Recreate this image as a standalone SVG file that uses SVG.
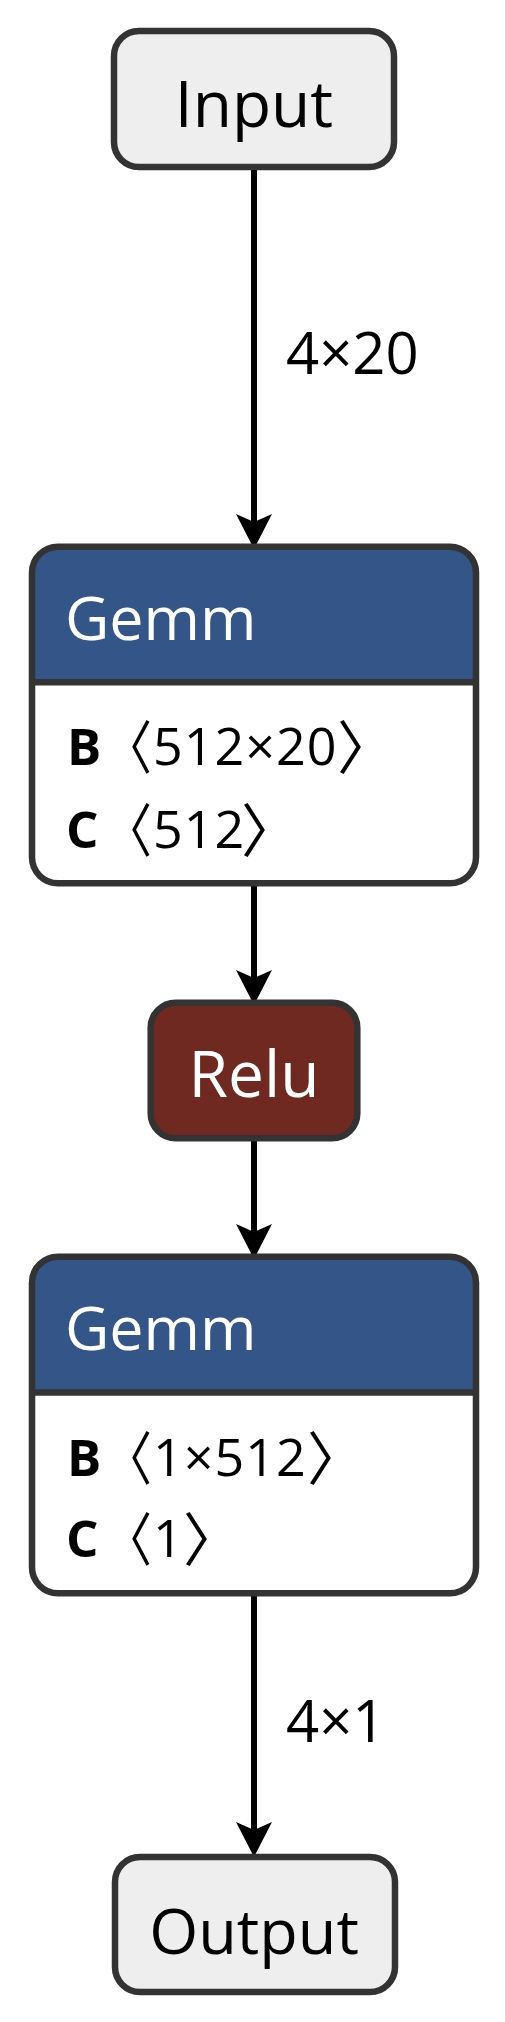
<svg xmlns="http://www.w3.org/2000/svg" width="505" height="2022" viewBox="0 0 505 2022">
  <style>
    .box { stroke: #333333; stroke-width: 6.5; }
    .io { fill: #eeeeee; }
    .layer { fill: #335588; }
    .act { fill: #702921; }
    .body { fill: #ffffff; }
    .outline { fill: none; stroke: #333333; stroke-width: 6.5; }
    .edge { stroke: #000000; stroke-width: 6; fill: none; }
    .head { fill: #000000; stroke: none; }
    text { font-family: "Open Sans", "Noto Sans", "DejaVu Sans", sans-serif; fill: #000000; }
    .title { font-size: 64px; }
    .wtitle { font-size: 61px; fill: #ffffff; }
    .lbl { font-size: 58px; }
    .attr { font-size: 52px; letter-spacing: 1px; }
    .attrb { font-size: 51px; font-weight: bold; }
    .br { font-family: "Noto Sans CJK JP", "Noto Sans CJK SC", sans-serif; font-size: 58px; }
    .bl { font-family: "Noto Sans CJK JP", "Noto Sans CJK SC", sans-serif; font-size: 48px; }
  </style>

  <g id="edges">
    <line class="edge" x1="254" y1="168" x2="254" y2="524"/>
    <path class="head" d="M254,549 L236,514 L254,522 L272,514 Z"/>
    <line class="edge" x1="254" y1="884" x2="254" y2="980"/>
    <path class="head" d="M254,1005 L236,970 L254,978 L272,970 Z"/>
    <line class="edge" x1="254" y1="1139" x2="254" y2="1234"/>
    <path class="head" d="M254,1259 L236,1224 L254,1232 L272,1224 Z"/>
    <line class="edge" x1="254" y1="1594" x2="254" y2="1832"/>
    <path class="head" d="M254,1857 L236,1822 L254,1830 L272,1822 Z"/>
    <text class="lbl" x="286" y="374">4×20</text>
    <text class="lbl" x="286" y="1742">4×1</text>
  </g>

  <g id="node-input">
    <rect class="box io" x="114" y="31" width="280" height="136" rx="25" ry="25"/>
    <text class="title" x="254" y="127" text-anchor="middle">Input</text>
  </g>

  <g id="node-gemm1">
    <rect class="body" x="32" y="546.7" width="444" height="336.6" rx="26" ry="26"/>
    <path class="layer" d="M32,682.3 V572.7 A26,26 0 0 1 58,546.7 H450 A26,26 0 0 1 476,572.7 V682.3 Z"/>
    <rect class="outline" x="32" y="546.7" width="444" height="336.6" rx="26" ry="26"/>
    <line class="outline" x1="32" y1="682.3" x2="476" y2="682.3"/>
    <text class="wtitle" x="65" y="640">Gemm</text>
    <text class="attrb" x="67" y="765">B</text>
    <text class="bl" transform="translate(104,769) scale(1,1.2)" x="0" y="0">〈</text>
    <text class="attr" x="153" y="765">512×20</text>
    <text class="br" x="337" y="769">〉</text>
    <text class="attrb" x="66" y="848">C</text>
    <text class="bl" transform="translate(104,852) scale(1,1.2)" x="0" y="0">〈</text>
    <text class="attr" x="153" y="848">512</text>
    <text class="br" x="241" y="852">〉</text>
  </g>

  <g id="node-relu">
    <rect class="box act" x="150.7" y="1002.7" width="206.6" height="135.6" rx="25" ry="25"/>
    <text class="wtitle" x="254" y="1097" text-anchor="middle" style="font-size:64px">Relu</text>
  </g>

  <g id="node-gemm2">
    <rect class="body" x="32" y="1256.7" width="444" height="336.6" rx="26" ry="26"/>
    <path class="layer" d="M32,1392.5 V1282.7 A26,26 0 0 1 58,1256.7 H450 A26,26 0 0 1 476,1282.7 V1392.5 Z"/>
    <rect class="outline" x="32" y="1256.7" width="444" height="336.6" rx="26" ry="26"/>
    <line class="outline" x1="32" y1="1392.5" x2="476" y2="1392.5"/>
    <text class="wtitle" x="65" y="1350">Gemm</text>
    <text class="attrb" x="67" y="1476">B</text>
    <text class="bl" transform="translate(104,1480) scale(1,1.2)" x="0" y="0">〈</text>
    <text class="attr" x="153" y="1476">1×512</text>
    <text class="br" x="307" y="1480">〉</text>
    <text class="attrb" x="66" y="1557">C</text>
    <text class="bl" transform="translate(104,1561) scale(1,1.2)" x="0" y="0">〈</text>
    <text class="attr" x="153" y="1557">1</text>
    <text class="br" x="183" y="1561">〉</text>
  </g>

  <g id="node-output">
    <rect class="box io" x="115" y="1857" width="280" height="135" rx="25" ry="25"/>
    <text class="title" x="254" y="1954" text-anchor="middle" style="font-size:63px">Output</text>
  </g>
</svg>
